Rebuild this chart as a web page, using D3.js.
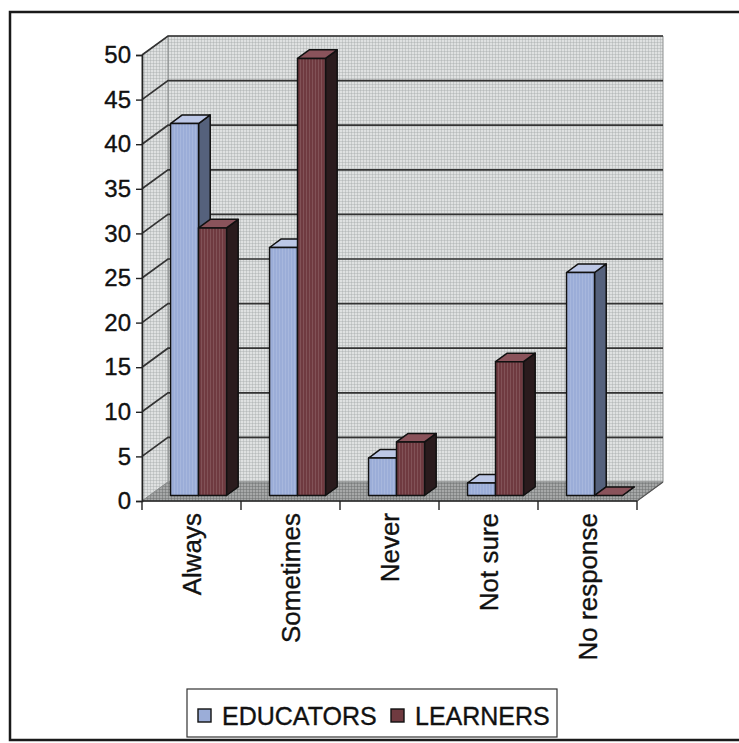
<!DOCTYPE html>
<html>
<head>
<meta charset="utf-8">
<script src="https://cdn.jsdelivr.net/npm/d3@7"></script>
<style>
  html, body { margin: 0; padding: 0; background: #ffffff; }
  svg { display: block; }
  text { font-family: Arial, "Liberation Sans", sans-serif; fill: #111; stroke: #111; stroke-width: 0.35px; }
</style>
</head>
<body>
<svg id="chart" width="739" height="743"></svg>
<script>
// Survey responses (percent) per answer category
const categories = ["Always", "Sometimes", "Never", "Not sure", "No response"];
const educators = [41.7, 27.8, 4.2, 1.4, 25];
const learners = [30, 49, 6, 15, 0];
const seriesNames = ["EDUCATORS", "LEARNERS"];
const yTickValues = [0, 5, 10, 15, 20, 25, 30, 35, 40, 45, 50];

const seriesValues = [educators, learners];
const palette = {
  EDUCATORS: { front: "#9badd8", top: "#bcc7e6", side: "#55617c" },
  LEARNERS:  { front: "#6f3a40", top: "#8a535b", side: "#2a1b1d" }
};

const svg = d3.select("#chart");
const defs = svg.append("defs");

// Fine mesh texture for walls and floor
function mesh(id, color, opacity, step) {
  const p = defs.append("pattern").attr("id", id)
    .attr("width", step).attr("height", step)
    .attr("patternUnits", "userSpaceOnUse");
  p.append("path").attr("d", `M0,0.5H${step}M0.5,0V${step}`)
    .attr("stroke", color).attr("stroke-width", 1).attr("stroke-opacity", opacity).attr("fill", "none");
}
mesh("wallMesh", "#a3a8a8", 0.4, 3);
mesh("floorMesh", "#6d7070", 0.5, 3);
// Vertical grain on the column faces
const grain = defs.append("pattern").attr("id", "barGrain")
  .attr("width", 3).attr("height", 6).attr("patternUnits", "userSpaceOnUse");
grain.append("path").attr("d", "M0.5,0V6").attr("stroke", "#ffffff").attr("stroke-opacity", 0.12);

// Outer chart frame
svg.append("rect").attr("x", 10).attr("y", 12).attr("width", 760).attr("height", 728)
  .attr("fill", "none").attr("stroke", "#1a1a1a").attr("stroke-width", 2.5);

// Front-plane scales
const y = d3.scaleLinear().domain([0, 50]).range([501, 55]);
const x0 = d3.scaleBand().domain(categories).range([142, 637]).padding(0);
const x1 = d3.scaleBand().domain(seriesNames).range([0, x0.bandwidth()])
  .paddingInner(0).paddingOuter(0.77);

// Depth vector of the plot box, and the column slab within it
const depth = { dx: 26, dy: -19 };
const barOff = { dx: depth.dx * 0.27, dy: depth.dy * 0.29 };
const barDepth = { dx: depth.dx * 0.45, dy: depth.dy * 0.45 };

const xL = x0.range()[0], xR = x0.range()[1];
const y0 = y(0), yTop = y(50);

const box = svg.append("g");

// Back wall
const backPts = [[xL + depth.dx, yTop + depth.dy], [xR + depth.dx, yTop + depth.dy],
                 [xR + depth.dx, y0 + depth.dy], [xL + depth.dx, y0 + depth.dy]];
// Left side wall
const sidePts = [[xL, yTop], [xL + depth.dx, yTop + depth.dy], [xL + depth.dx, y0 + depth.dy], [xL, y0]];
// Floor
const floorPts = [[xL, y0], [xR, y0], [xR + depth.dx, y0 + depth.dy], [xL + depth.dx, y0 + depth.dy]];

const poly = pts => "M" + pts.map(p => p.join(",")).join("L") + "Z";

[[backPts, "#dfe1e1", "wallMesh"], [sidePts, "#dfe1e1", "wallMesh"], [floorPts, "#a6a8a8", "floorMesh"]]
  .forEach(([pts, fill, pat]) => {
    box.append("path").attr("d", poly(pts)).attr("fill", fill);
    box.append("path").attr("d", poly(pts)).attr("fill", `url(#${pat})`)
      .attr("stroke", "#8c8f8f").attr("stroke-width", 1);
  });

// Gridlines on the back wall and the side wall
const grid = box.append("g").attr("stroke", "#333").attr("stroke-width", 1.7).attr("fill", "none");
yTickValues.filter(v => v > 0).forEach(v => {
  grid.append("path").attr("d",
    `M${xL},${y(v)}L${xL + depth.dx},${y(v) + depth.dy}L${xR + depth.dx},${y(v) + depth.dy}`);
});

// Columns, painted left to right so right faces are overlapped correctly
const bars = svg.append("g").attr("stroke", "#111").attr("stroke-width", 1.5).attr("stroke-linejoin", "round");
categories.forEach((cat, ci) => {
  seriesNames.forEach((s, si) => {
    const v = seriesValues[si][ci];
    const w = x1.bandwidth();
    const bl = x0(cat) + x1(s) + barOff.dx;
    const br = bl + w;
    const bb = y(0) + barOff.dy;
    const bt = y(v) + barOff.dy;
    const c = palette[s];
    const g = bars.append("g");
    // right side face
    g.append("path").attr("fill", c.side).attr("d", poly([
      [br, bt], [br + barDepth.dx, bt + barDepth.dy], [br + barDepth.dx, bb + barDepth.dy], [br, bb]]));
    // top face
    g.append("path").attr("fill", c.top).attr("d", poly([
      [bl, bt], [br, bt], [br + barDepth.dx, bt + barDepth.dy], [bl + barDepth.dx, bt + barDepth.dy]]));
    // front face
    if (bb - bt > 0.5) {
      g.append("rect").attr("x", bl).attr("y", bt).attr("width", w).attr("height", bb - bt).attr("fill", c.front);
      g.append("rect").attr("x", bl + 1).attr("y", bt + 1).attr("width", Math.max(0, w - 2))
        .attr("height", Math.max(0, bb - bt - 2)).attr("fill", "url(#barGrain)").attr("stroke", "none");
    }
  });
});

// Value axis
const yAxis = d3.axisLeft(y).tickValues(yTickValues).tickSize(6).tickPadding(5).tickFormat(d3.format("d"));
const ya = svg.append("g").attr("transform", `translate(${xL},0)`).call(yAxis);
ya.select(".domain").attr("stroke", "#222").attr("stroke-width", 1.6);
ya.selectAll(".tick line").attr("stroke", "#222").attr("stroke-width", 1.4);
ya.selectAll(".tick text").attr("font-size", 24).attr("fill", "#111")
  .attr("font-family", "Arial, 'Liberation Sans', sans-serif");

// Category axis with boundary ticks
const xa = svg.append("g");
xa.append("line").attr("x1", xL).attr("x2", xR).attr("y1", y0).attr("y2", y0)
  .attr("stroke", "#222").attr("stroke-width", 1.6);
xa.append("line").attr("x1", xR).attr("y1", y0).attr("x2", xR + depth.dx).attr("y2", y0 + depth.dy)
  .attr("stroke", "#555").attr("stroke-width", 1.2);
categories.concat([null]).forEach(cat => {
  const tx = cat === null ? xR : x0(cat);
  xa.append("line").attr("x1", tx).attr("x2", tx).attr("y1", y0).attr("y2", y0 + 9)
    .attr("stroke", "#222").attr("stroke-width", 1.4);
});
xa.selectAll("text.cat").data(categories).join("text").attr("class", "cat")
  .attr("transform", d => `translate(${x0(d) + x0.bandwidth() / 2},${y0 + 12}) rotate(-90)`)
  .attr("text-anchor", "end").attr("dominant-baseline", "central")
  .attr("font-size", 26).text(d => d);

// Legend
const lg = svg.append("g");
lg.append("rect").attr("x", 187).attr("y", 689).attr("width", 370).attr("height", 48)
  .attr("fill", "#fff").attr("stroke", "#333").attr("stroke-width", 1.2);
const legendX = [198, 391];
seriesNames.forEach((s, i) => {
  lg.append("rect").attr("x", legendX[i]).attr("y", 709).attr("width", 13).attr("height", 13)
    .attr("fill", palette[s].front).attr("stroke", "#111").attr("stroke-width", 1.4);
  lg.append("text").attr("x", legendX[i] + 24).attr("y", 725).attr("font-size", 25).text(s);
});
</script>
</body>
</html>
